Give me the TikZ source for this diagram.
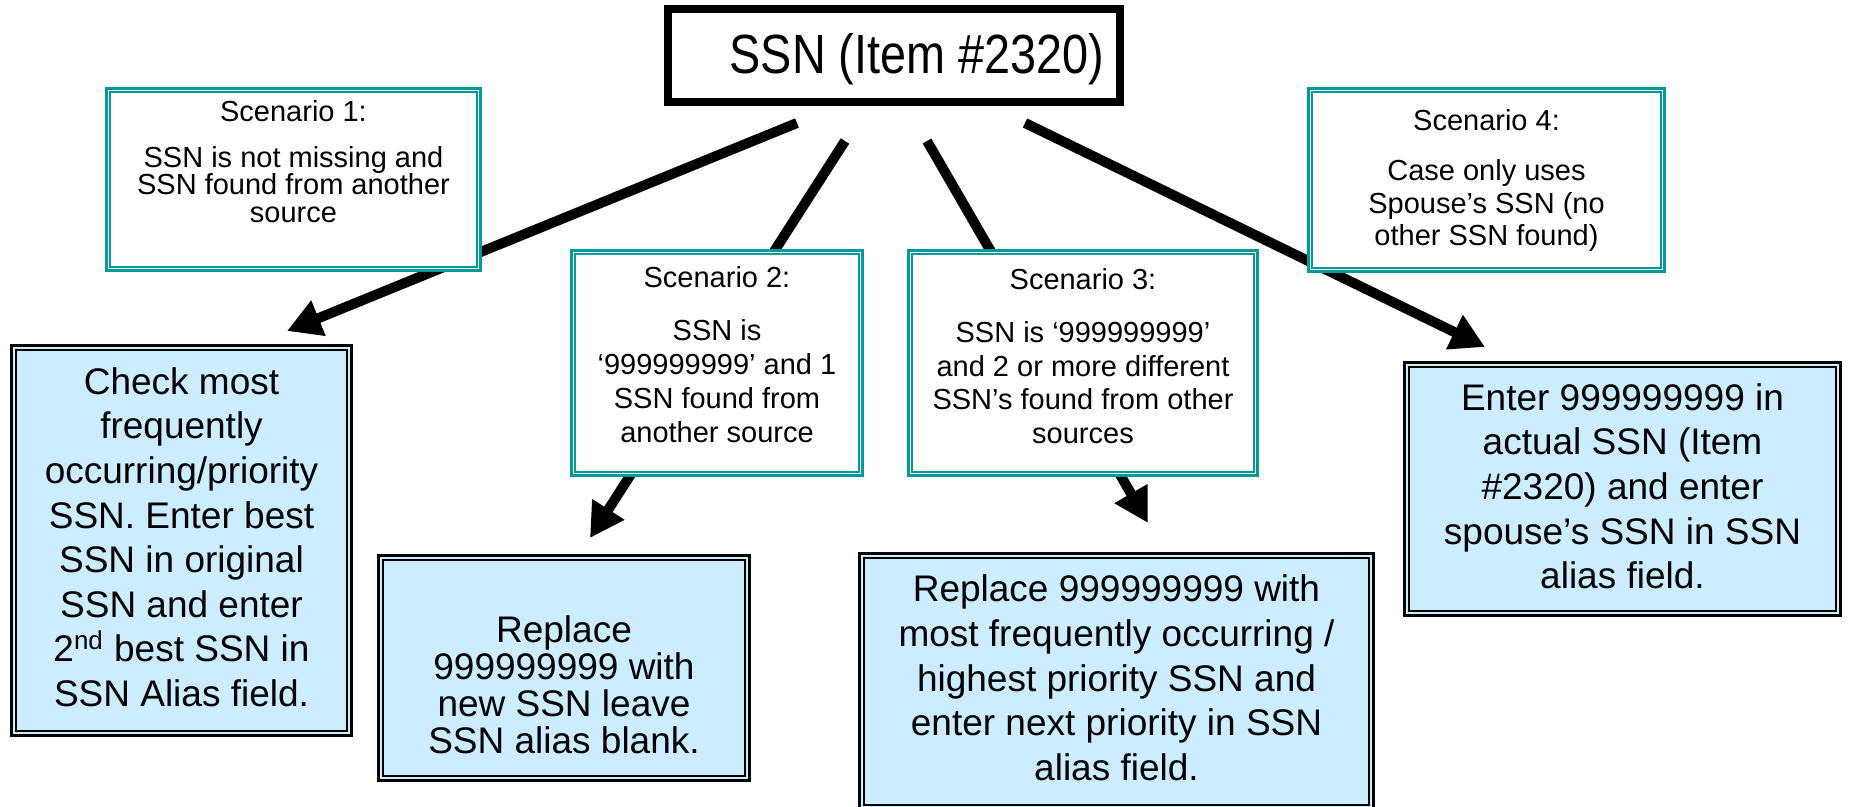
\documentclass[tikz,border=0pt]{standalone}
\usepackage{fontspec}
\setmainfont{Liberation Sans}
\usetikzlibrary{arrows.meta,fit}
\definecolor{tealb}{RGB}{0,153,153}
\definecolor{lblue}{RGB}{204,236,255}
\tikzset{
  arr/.style={line width=5pt, -{Triangle[length=17pt,width=18pt]}},
  scenbox/.style={draw=tealb, line width=1.5pt, fill=white, inner sep=0pt},
  sceninner/.style={draw=tealb, line width=1pt},
  bluebox/.style={draw=black, line width=1.6pt, fill=lblue, inner sep=0pt},
  blueinner/.style={draw=black, line width=0.85pt},
  titlebox/.style={draw=black, line width=3.5pt, fill=white, inner sep=0pt},
  titleinner/.style={draw=black, line width=1pt},
  scentext/.style={anchor=north, inner sep=0pt, align=center},
  bluetext/.style={anchor=north, inner sep=0pt, align=center,
    font={\fontsize{18.5}{22.3}\selectfont\lineskiplimit=-30pt}},
}
\begin{document}
\begin{tikzpicture}[x=0.5pt,y=-0.5pt]
\useasboundingbox (0,0) rectangle (1849,807);
\fill[white] (0,0) rectangle (1849,807);

% connector end points
\coordinate (a1s) at (797,123);
\coordinate (a1e) at (287,331);
\coordinate (a2s) at (845,141);
\coordinate (a2e) at (590,538);
\coordinate (a3s) at (927,141);
\coordinate (a3e) at (1148,523);
\coordinate (a4s) at (1025,123);
\coordinate (a4e) at (1485,347);

\draw[arr] (a1s) -- (a1e);
\draw[arr] (a2s) -- (a2e);
\draw[arr] (a3s) -- (a3e);
\draw[arr] (a4s) -- (a4e);

% title
\node[titlebox, fit={(667.5,8.5) (1120.5,102.5)}] (title) {};
\draw[titleinner] ([shift={(7,7)}]title.north west) rectangle ([shift={(-7,-7)}]title.south east);
\node[anchor=base, inner sep=0pt, yscale=1.18, transform shape, font=\fontsize{23.4}{28}\selectfont] (titletext) at (917,74) {SSN (Item \#2320)};

% scenario boxes
\node[scenbox, fit={(106.5,88.5) (480.5,270.5)}] (s1) {};
\draw[sceninner] ([shift={(5,5)}]s1.north west) rectangle ([shift={(-5,-5)}]s1.south east);
\node[scentext, font={\fontsize{14.5}{13.75}\selectfont\lineskiplimit=-30pt}] (s1t) at (293.5,100)
  {Scenario 1:\\[9.25pt]SSN is not missing and\\SSN found from another\\source};

\node[scenbox, fit={(571.5,250.5) (862.5,475.5)}] (s2) {};
\draw[sceninner] ([shift={(5,5)}]s2.north west) rectangle ([shift={(-5,-5)}]s2.south east);
\node[scentext, font={\fontsize{14.5}{17}\selectfont}] (s2t) at (717,266.5)
  {Scenario 2:\\[9.5pt]SSN is\\‘999999999’ and 1\\SSN found from\\another source};

\node[scenbox, fit={(908.5,250.5) (1257.5,475.5)}] (s3) {};
\draw[sceninner] ([shift={(5,5)}]s3.north west) rectangle ([shift={(-5,-5)}]s3.south east);
\node[scentext, font={\fontsize{14.5}{16.75}\selectfont}] (s3t) at (1083,268.5)
  {Scenario 3:\\[9.75pt]SSN is ‘999999999’\\and 2 or more different\\SSN’s found from other\\sources};

\node[scenbox, fit={(1308.5,88.5) (1664.5,271.5)}] (s4) {};
\draw[sceninner] ([shift={(5,5)}]s4.north west) rectangle ([shift={(-5,-5)}]s4.south east);
\node[scentext, font={\fontsize{14.5}{16.25}\selectfont}] (s4t) at (1486.5,109.5)
  {Scenario 4:\\[8.75pt]Case only uses\\Spouse’s SSN (no\\other SSN found)};

% result boxes
\node[bluebox, fit={(11.6,345.6) (351.4,735.4)}] (b1) {};
\draw[blueinner] ([shift={(6,6)}]b1.north west) rectangle ([shift={(-6,-6)}]b1.south east);
\node[bluetext] (b1t) at (181.5,367)
  {Check most\\frequently\\occurring/priority\\SSN. Enter best\\SSN in original\\SSN and enter\\2\textsuperscript{nd} best SSN in\\SSN Alias field.};

\node[bluebox, fit={(378.6,555.6) (749.4,780.4)}] (b2) {};
\draw[blueinner] ([shift={(6,6)}]b2.north west) rectangle ([shift={(-6,-6)}]b2.south east);
\node[bluetext, font={\fontsize{18.5}{18.5}\selectfont\lineskiplimit=-30pt}] (b2t) at (564,615)
  {Replace\\999999999 with\\new SSN leave\\SSN alias blank.};

\node[bluebox, fit={(859.6,553.6) (1373.4,809.4)}] (b3) {};
\draw[blueinner] ([shift={(6,6)}]b3.north west) rectangle ([shift={(-6,-6)}]b3.south east);
\node[bluetext] (b3t) at (1116.5,574.7)
  {Replace 999999999 with\\most frequently occurring /\\highest priority SSN and\\enter next priority in SSN\\alias field.};

\node[bluebox, fit={(1404.6,362.6) (1840.4,615.4)}] (b4) {};
\draw[blueinner] ([shift={(6,6)}]b4.north west) rectangle ([shift={(-6,-6)}]b4.south east);
\node[bluetext] (b4t) at (1622.5,383)
  {Enter 999999999 in\\actual SSN (Item\\\#2320) and enter\\spouse’s SSN in SSN\\alias field.};
\end{tikzpicture}
\end{document}
